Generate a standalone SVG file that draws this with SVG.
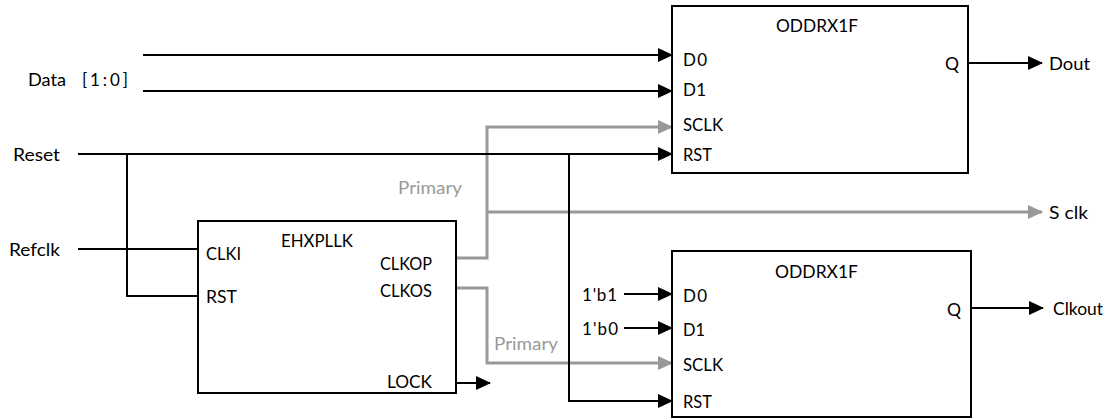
<svg xmlns="http://www.w3.org/2000/svg" width="1111" height="419" viewBox="0 0 1111 419">
<style>
text{font-family:Lato,"Open Sans","Liberation Sans",sans-serif;font-size:17px;fill:#000}
.g{fill:#999}
.box{fill:#fff;stroke:#000;stroke-width:2}
.w{fill:none;stroke:#000;stroke-width:2}
.gw{fill:none;stroke:#999;stroke-width:3}
</style>
<defs>
<marker id="ab" markerUnits="userSpaceOnUse" markerWidth="15" markerHeight="15" refX="14" refY="7" orient="auto" viewBox="0 0 15 15"><path d="M0,0 L15,7 L0,14 z" fill="#000"/></marker>
<marker id="ag" markerUnits="userSpaceOnUse" markerWidth="15" markerHeight="15" refX="14" refY="7" orient="auto" viewBox="0 0 15 15"><path d="M0,0 L15,7 L0,14 z" fill="#999"/></marker>
</defs>
<g id="connectors">
<path class="gw" d="M456,258 H487 V127 H672" marker-end="url(#ag)"/>
<path class="gw" d="M487,212 H1042" marker-end="url(#ag)"/>
<path class="gw" d="M456,288 H487 V363 H672" marker-end="url(#ag)"/>
<path class="w" d="M143,55 H672" marker-end="url(#ab)"/>
<path class="w" d="M143,91 H672" marker-end="url(#ab)"/>
<path class="w" d="M78,154 H672" marker-end="url(#ab)"/>
<path class="w" d="M127,154 V296 H198"/>
<path class="w" d="M78,249 H198"/>
<path class="w" d="M569,154 V401 H672" marker-end="url(#ab)"/>
<path class="w" d="M624,294 H672" marker-end="url(#ab)"/>
<path class="w" d="M624,328 H672" marker-end="url(#ab)"/>
<path class="w" d="M968,63 H1042" marker-end="url(#ab)"/>
<path class="w" d="M971,308 H1043" marker-end="url(#ab)"/>
<path class="w" d="M456,383 H490" marker-end="url(#ab)"/>
<text class="g" x="398" y="194" textLength="64" lengthAdjust="spacingAndGlyphs">Primary</text>
<text class="g" x="494" y="350" textLength="64" lengthAdjust="spacingAndGlyphs">Primary</text>
</g>
<g id="labels">
<text x="28" y="86"><tspan textLength="38" lengthAdjust="spacingAndGlyphs">Data</tspan><tspan x="82" textLength="46" lengthAdjust="spacing">[1:0]</tspan></text>
<text x="13" y="161" textLength="47" lengthAdjust="spacingAndGlyphs">Reset</text>
<text x="9" y="256" textLength="51" lengthAdjust="spacingAndGlyphs">Refclk</text>
<text x="1049" y="70" textLength="41" lengthAdjust="spacingAndGlyphs">Dout</text>
<text x="1049" y="219" textLength="39" lengthAdjust="spacingAndGlyphs">S clk</text>
<text x="1053" y="315" textLength="50" lengthAdjust="spacingAndGlyphs">Clkout</text>
<text x="582" y="301" textLength="35" lengthAdjust="spacing">1'b1</text>
<text x="582" y="335" textLength="36" lengthAdjust="spacing">1'b0</text>
</g>
<g id="oddr_top">
<rect class="box" x="672" y="6" width="296" height="167"/>
<text x="776" y="32" textLength="82" lengthAdjust="spacingAndGlyphs">ODDRX1F</text>
<text x="683" y="66" textLength="24" lengthAdjust="spacing">D0</text>
<text x="683" y="96" textLength="23" lengthAdjust="spacing">D1</text>
<text x="683" y="131" textLength="40" lengthAdjust="spacingAndGlyphs">SCLK</text>
<text x="683" y="161" textLength="29" lengthAdjust="spacingAndGlyphs">RST</text>
<text x="945" y="70" textLength="14" lengthAdjust="spacingAndGlyphs">Q</text>
</g>
<g id="pll">
<rect class="box" x="198" y="221" width="258" height="172"/>
<text x="281" y="247" textLength="72" lengthAdjust="spacingAndGlyphs">EHXPLLK</text>
<text x="206" y="260" textLength="35" lengthAdjust="spacingAndGlyphs">CLKI</text>
<text x="206" y="303" textLength="31" lengthAdjust="spacingAndGlyphs">RST</text>
<text x="380" y="270" textLength="52" lengthAdjust="spacingAndGlyphs">CLKOP</text>
<text x="380" y="297" textLength="52" lengthAdjust="spacingAndGlyphs">CLKOS</text>
<text x="387" y="388" textLength="45" lengthAdjust="spacingAndGlyphs">LOCK</text>
</g>
<g id="oddr_bottom">
<rect class="box" x="672" y="251" width="299" height="166"/>
<text x="775" y="278" textLength="83" lengthAdjust="spacingAndGlyphs">ODDRX1F</text>
<text x="683" y="302" textLength="24" lengthAdjust="spacing">D0</text>
<text x="683" y="336" textLength="22" lengthAdjust="spacingAndGlyphs">D1</text>
<text x="683" y="371" textLength="40" lengthAdjust="spacingAndGlyphs">SCLK</text>
<text x="683" y="408" textLength="29" lengthAdjust="spacingAndGlyphs">RST</text>
<text x="947" y="316" textLength="14" lengthAdjust="spacingAndGlyphs">Q</text>
</g>
</svg>
